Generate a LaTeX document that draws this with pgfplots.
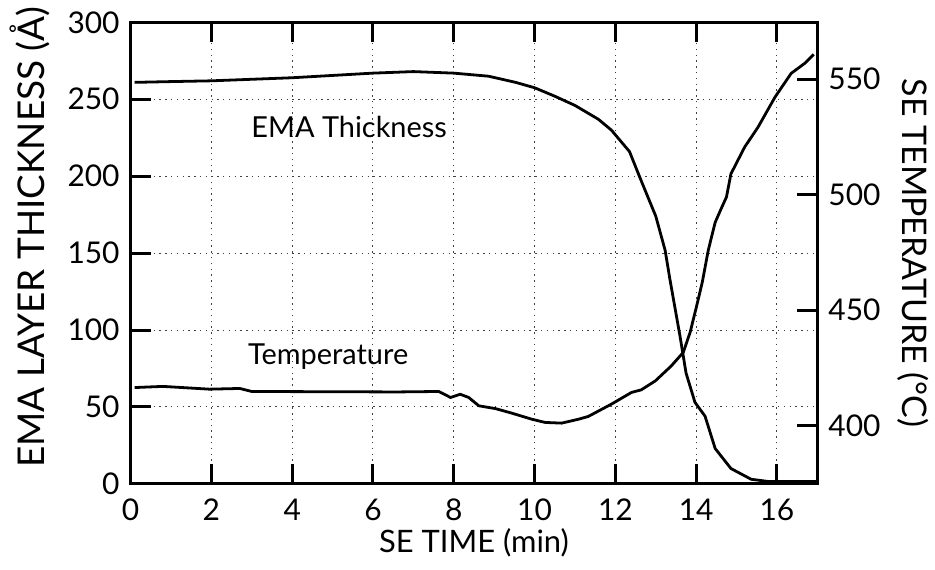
\documentclass[border=0pt]{standalone}
\usepackage{pgfplots}
\pgfplotsset{compat=1.18}
\usepackage{fontspec}
\setmainfont{Lato}
\begin{document}
\begin{tikzpicture}
\pgfplotsset{
  common/.style={
    scale only axis, width=344.5pt, height=231.5pt,
    xmin=0, xmax=17,
    tick align=inside, major tick length=10pt,
    every tick/.style={black, line width=1.5pt},
    axis line style={line width=1.5pt},
    tick label style={font=\fontsize{15}{15}\selectfont},
    xlabel style={font=\fontsize{15.5}{16}\selectfont},
    /pgf/number format/assume math mode=true,
  }
}
\begin{axis}[common,
  ymin=0, ymax=300,
  xtick={0,2,...,16}, ytick={0,50,...,300},
  ytick pos=left,
  xticklabel style={yshift=-4pt},
  yticklabel style={xshift=-2pt},
  grid=major, major grid style={black!75, line width=0.5pt, dash pattern=on 0.7pt off 2.2pt},
  xlabel={SE TIME (min)}, ylabel={EMA LAYER THICKNESS (Å)},
  xlabel style={yshift=3pt},
  ylabel style={font=\fontsize{18.5}{18.5}\selectfont, yshift=2pt, xshift=8pt},
]
\addplot[black, line width=1.4pt] coordinates {
(0.1,261) (1,261.5) (2,262) (3,263) (4,264) (5,265.5) (6,267) (7,268) (8,267)
(8.86,265) (9.53,261) (10,257.5) (10.5,252) (11,246) (11.58,237) (11.9,230)
(12.35,216) (12.64,197) (13.0,174) (13.23,152) (13.35,133) (13.6,96) (13.75,72)
(13.97,53) (14.22,44) (14.47,23) (14.86,10) (15.36,3) (15.8,1.5) (17,1.5)
};
\node[font=\fontsize{14.5}{15}\selectfont] at (axis cs:5.41,232) {EMA Thickness};
\node[font=\fontsize{14.5}{15}\selectfont] at (axis cs:4.89,83) {Temperature};
\path (axis cs:0,0) ++(-65.5pt,-43pt) coordinate (bbsw);
\path (axis cs:0,0) ++(402pt,242.5pt) coordinate (bbne);
\end{axis}
\begin{axis}[common,
  ymin=374.8, ymax=574.6,
  axis x line=none, axis y line*=right,
  ytick={400,450,500,550},
  yticklabel style={xshift=2pt},
  ylabel={SE TEMPERATURE (°C)},
  ylabel style={font=\fontsize{17}{17}\selectfont, rotate=180, yshift=1.5pt},
]
\addplot[black, line width=1.4pt] coordinates {
(0.1,416.5) (0.8,417) (1.95,415.8) (2.7,416.1) (3.0,414.8) (6.6,414.6) (7.63,414.8)
(7.92,412.2) (8.16,413.6) (8.37,412.2) (8.62,408.6) (9.03,407.4) (9.44,405.4)
(9.93,402.8) (10.26,401.4) (10.67,401.1) (11.09,402.8) (11.33,404) (11.9,409.3)
(12.4,414.4) (12.64,415.5) (12.99,419.4) (13.38,425.8) (13.68,431.7) (13.85,440.4)
(14.0,451) (14.15,462) (14.3,476) (14.47,488) (14.62,494) (14.75,499) (14.86,509)
(15.2,520.6) (15.53,529.2) (15.95,542.2) (16.35,552.5) (16.69,556.9) (16.91,560.7)
};
\end{axis}
\path (bbsw) rectangle (bbne);
\end{tikzpicture}
\end{document}
